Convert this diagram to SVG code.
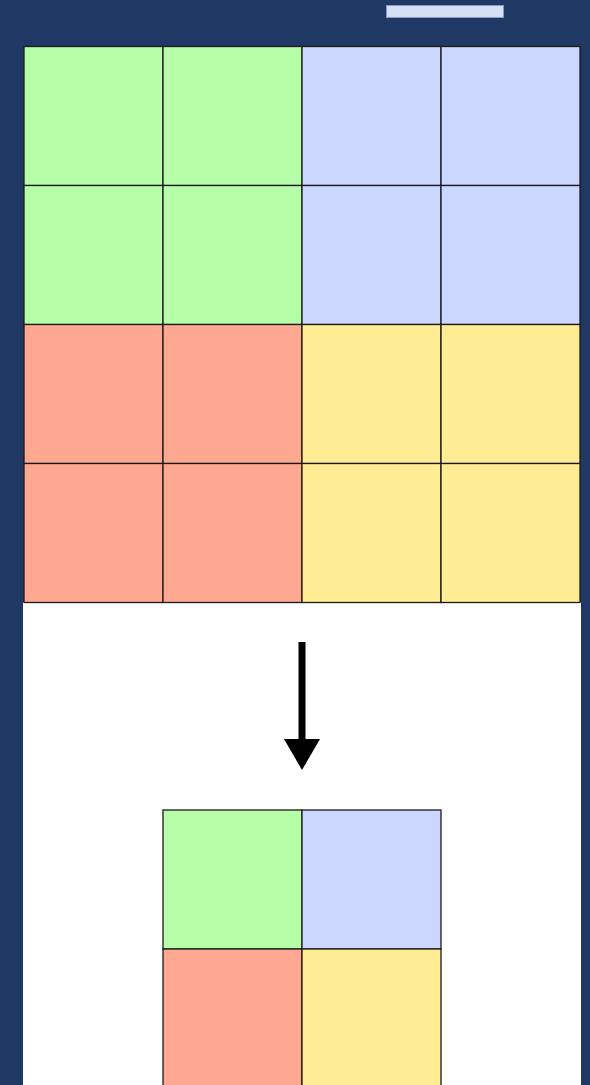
<svg xmlns="http://www.w3.org/2000/svg" width="590" height="1085" viewBox="0 0 590 1085">
<style>
.c{stroke:#1a1a1a;stroke-width:1.3}
.g{fill:#b6ffa8}.b{fill:#ccd7ff}.r{fill:#ffa891}.y{fill:#ffec93}
</style>
<defs>
<marker id="ah" markerWidth="31" markerHeight="36" refX="0" refY="18" markerUnits="userSpaceOnUse" orient="auto" viewBox="0 0 31 36"><path d="M0,0 L31,18 L0,36 Z" fill="#000"/></marker>
</defs>
<rect x="0" y="0" width="590" height="1085" fill="#1f3864"/>
<rect x="23" y="602" width="558" height="483" fill="#fff"/>
<rect x="386.5" y="5.5" width="117" height="12" fill="#d6e0f4" stroke="#8a9cc4" stroke-width="1"/>
<g id="big-grid">
<rect class="c g" x="24" y="46.5" width="139" height="139"/>
<rect class="c g" x="163" y="46.5" width="139" height="139"/>
<rect class="c b" x="302" y="46.5" width="139" height="139"/>
<rect class="c b" x="441" y="46.5" width="139" height="139"/>
<rect class="c g" x="24" y="185.5" width="139" height="139"/>
<rect class="c g" x="163" y="185.5" width="139" height="139"/>
<rect class="c b" x="302" y="185.5" width="139" height="139"/>
<rect class="c b" x="441" y="185.5" width="139" height="139"/>
<rect class="c r" x="24" y="324.5" width="139" height="139"/>
<rect class="c r" x="163" y="324.5" width="139" height="139"/>
<rect class="c y" x="302" y="324.5" width="139" height="139"/>
<rect class="c y" x="441" y="324.5" width="139" height="139"/>
<rect class="c r" x="24" y="463.5" width="139" height="139"/>
<rect class="c r" x="163" y="463.5" width="139" height="139"/>
<rect class="c y" x="302" y="463.5" width="139" height="139"/>
<rect class="c y" x="441" y="463.5" width="139" height="139"/>
</g>
<g id="connectors">
<line x1="302" y1="642" x2="302" y2="739" stroke="#000" stroke-width="7" marker-end="url(#ah)"/>
</g>
<g id="small-grid">
<rect class="c g" x="163" y="810" width="139" height="139"/>
<rect class="c b" x="302" y="810" width="139" height="139"/>
<rect class="c r" x="163" y="949" width="139" height="139"/>
<rect class="c y" x="302" y="949" width="139" height="139"/>
</g>
</svg>
